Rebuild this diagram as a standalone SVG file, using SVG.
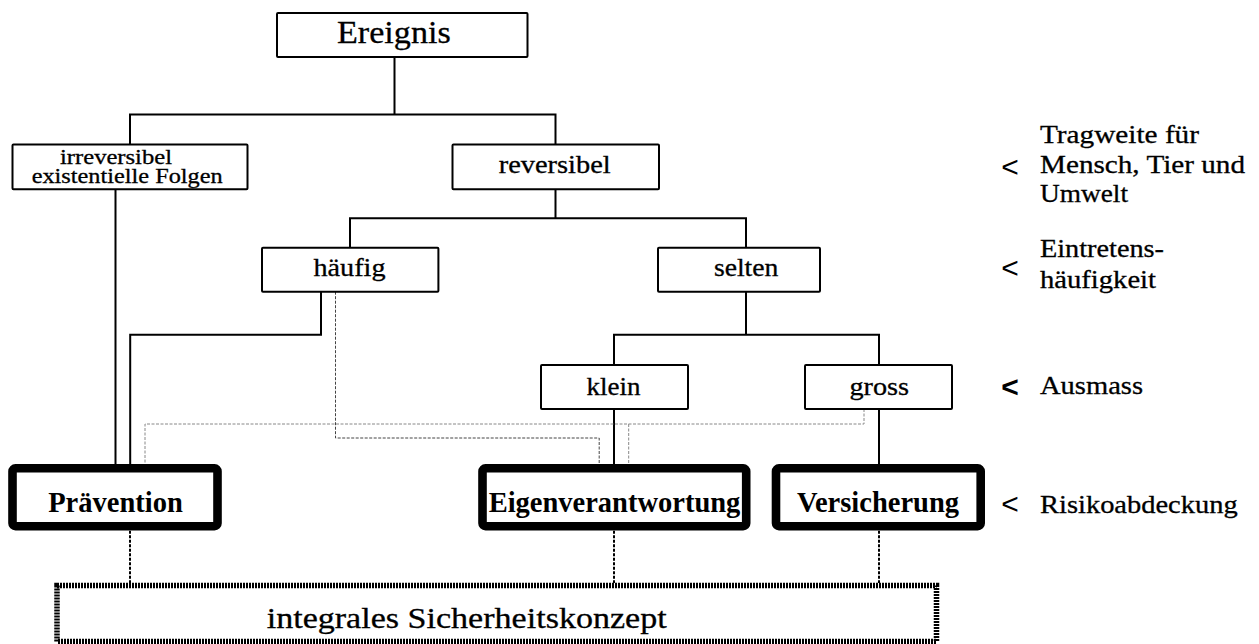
<svg xmlns="http://www.w3.org/2000/svg" width="1259" height="644" viewBox="0 0 1259 644">
<style>
.box{fill:#fff;stroke:#000;stroke-width:2}
.thick{fill:#fff;stroke:#000;stroke-width:8.6}
.t{font-family:"Liberation Serif","Times New Roman",serif;fill:#000;stroke:#000;stroke-width:0.3}
.b{font-family:"Liberation Serif","Times New Roman",serif;font-weight:bold;font-size:28.5px;fill:#000}
.lt{font-family:"Liberation Sans",Arial,sans-serif;font-size:30px;fill:#000}
.sol{fill:none;stroke:#000;stroke-width:2}
.dsh{fill:none;stroke:#444;stroke-width:1;stroke-dasharray:3 1.5}
.gry{fill:none;stroke:#888;stroke-width:1;stroke-dasharray:3 1.5}
.dot{fill:none;stroke:#000;stroke-width:2;stroke-dasharray:3 1.5}
</style>
<rect width="1259" height="644" fill="#fff"/>
<g id="connectors">
<path class="sol" d="M394.5 57V114.5M130 144V114.5H555.5V144"/>
<path class="sol" d="M555.5 189V218.3M350 247.7V218.3H746V247.7"/>
<path class="sol" d="M746 291.7V334.7M614 365V334.7H879V365"/>
<path class="sol" d="M115.5 189.3V464"/>
<path class="sol" d="M321 291.7V334.7H130.2V464"/>
<path class="sol" d="M614 409V464"/>
<path class="sol" d="M879 409V464"/>
<path class="dsh" d="M335.5 291.7V438H599.2V464"/>
<path class="gry" d="M864 409V424H145V464M628.7 424V464"/>
<path class="dot" d="M130 530.7V583M614 530.7V583M879 530.7V583"/>
</g>
<g id="n-ereignis">
<rect class="box" x="277" y="13" width="250.5" height="44" rx="1"/>
<text class="t" x="337" y="43.3" font-size="31" textLength="113.7" lengthAdjust="spacingAndGlyphs">Ereignis</text>
</g>
<g id="n-irreversibel">
<rect class="box" x="12.5" y="144.5" width="235" height="44.8" rx="1"/>
<text class="t" x="60" y="164.3" font-size="20.5" textLength="112" lengthAdjust="spacingAndGlyphs">irreversibel</text>
<text class="t" x="31.7" y="182.7" font-size="20.5" textLength="191" lengthAdjust="spacingAndGlyphs">existentielle Folgen</text>
</g>
<g id="n-reversibel">
<rect class="box" x="452.5" y="144.5" width="206.5" height="44.8" rx="1"/>
<text class="t" x="498.7" y="173.3" font-size="24.5" textLength="112" lengthAdjust="spacingAndGlyphs">reversibel</text>
</g>
<g id="n-haeufig">
<rect class="box" x="262" y="247.7" width="176.4" height="44" rx="1"/>
<text class="t" x="313.5" y="276" font-size="24.5" textLength="72" lengthAdjust="spacingAndGlyphs">häufig</text>
</g>
<g id="n-selten">
<rect class="box" x="658" y="247.7" width="162" height="44" rx="1"/>
<text class="t" x="713.9" y="276" font-size="24.5" textLength="64.5" lengthAdjust="spacingAndGlyphs">selten</text>
</g>
<g id="n-klein">
<rect class="box" x="541" y="365" width="147" height="44" rx="1"/>
<text class="t" x="586.5" y="395" font-size="24.5" textLength="54" lengthAdjust="spacingAndGlyphs">klein</text>
</g>
<g id="n-gross">
<rect class="box" x="805" y="365" width="147" height="44" rx="1"/>
<text class="t" x="849.4" y="395" font-size="24.5" textLength="59.6" lengthAdjust="spacingAndGlyphs">gross</text>
</g>
<g id="n-praevention">
<rect class="thick" x="12.5" y="468.3" width="205" height="57.9" rx="3"/>
<text class="b" x="115.5" y="511.7" text-anchor="middle">Prävention</text>
</g>
<g id="n-eigenverantwortung">
<rect class="thick" x="482.5" y="468.3" width="263.7" height="57.9" rx="3"/>
<text class="b" x="614.5" y="511.7" text-anchor="middle" textLength="251.7" lengthAdjust="spacingAndGlyphs">Eigenverantwortung</text>
</g>
<g id="n-versicherung">
<rect class="thick" x="776" y="468.3" width="204.7" height="57.9" rx="3"/>
<text class="b" x="878" y="511.7" text-anchor="middle">Versicherung</text>
</g>
<g id="n-integral">
<rect x="57" y="585.5" width="879.5" height="56" fill="#fff" stroke="#000" stroke-width="5.5" stroke-dasharray="2 1"/>
<text class="t" x="266.7" y="628.3" font-size="30" textLength="400" lengthAdjust="spacingAndGlyphs">integrales Sicherheitskonzept</text>
</g>
<g id="labels">
<text class="lt" x="1010" y="177" text-anchor="middle">&lt;</text>
<text class="t" x="1040" y="142.7" font-size="25" textLength="159" lengthAdjust="spacingAndGlyphs">Tragweite für</text>
<text class="t" x="1040" y="173.3" font-size="25" textLength="205" lengthAdjust="spacingAndGlyphs">Mensch, Tier und</text>
<text class="t" x="1040" y="201.7" font-size="25" textLength="88" lengthAdjust="spacingAndGlyphs">Umwelt</text>
<text class="lt" x="1010" y="278" text-anchor="middle">&lt;</text>
<text class="t" x="1040" y="257.3" font-size="25" textLength="124" lengthAdjust="spacingAndGlyphs">Eintretens-</text>
<text class="t" x="1040" y="288.3" font-size="25" textLength="116" lengthAdjust="spacingAndGlyphs">häufigkeit</text>
<text class="lt" x="1010" y="397" text-anchor="middle" font-weight="bold">&lt;</text>
<text class="t" x="1040" y="394.3" font-size="25" textLength="103" lengthAdjust="spacingAndGlyphs">Ausmass</text>
<text class="lt" x="1010" y="514" text-anchor="middle">&lt;</text>
<text class="t" x="1040" y="512.7" font-size="25" textLength="197.7" lengthAdjust="spacingAndGlyphs">Risikoabdeckung</text>
</g>
</svg>
